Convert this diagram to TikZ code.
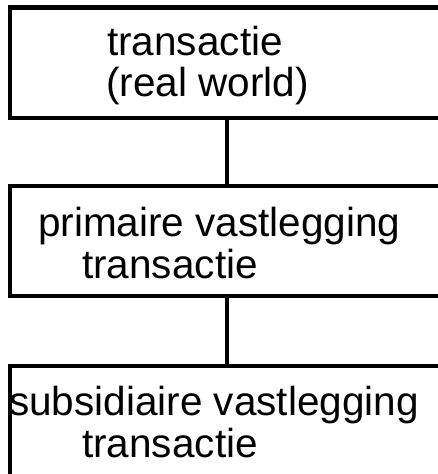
\documentclass[tikz,border=0pt]{standalone}
\usepackage{fontspec}
\setmainfont{Liberation Sans}
\begin{document}
\begin{tikzpicture}[x=1pt,y=-1pt,
  box/.style={draw=black, line width=4.5pt, rectangle, minimum width=433pt, inner sep=0pt, outer sep=0pt},
  txt/.style={anchor=base west, inner sep=0pt, font=\fontsize{40.5}{42}\selectfont},
  conn/.style={draw=black, line width=4pt}]
\useasboundingbox (0,0) rectangle (438,474);
\clip (0,0) rectangle (438,474);
\node[box, minimum height=110.5pt] (b1) at (226.5,62.75) {};
\node[box, minimum height=110pt] (b2) at (226.5,241) {};
\node[box, minimum height=110pt] (b3) at (226.5,421) {};
\draw[conn] (b1.south) -- (b2.north);
\draw[conn] (b2.south) -- (b3.north);
\node[txt] (t1a) at (107,55) {transactie};
\node[txt] (t1b) at (106,96) {(real world)};
\node[txt] (t2a) at (38,236) {primaire vastlegging};
\node[txt] (t2b) at (82,278) {transactie};
\node[txt] (t3a) at (9,415) {subsidiaire vastlegging};
\node[txt] (t3b) at (82,457) {transactie};
\end{tikzpicture}
\end{document}
